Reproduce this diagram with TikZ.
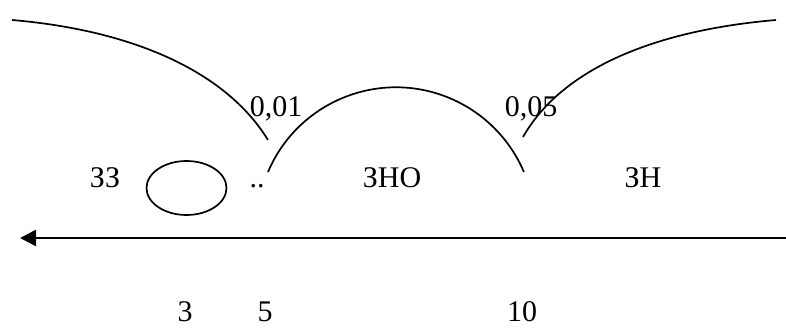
\documentclass[tikz,border=0pt]{standalone}
\usepackage{fontspec}
\setmainfont{Liberation Serif}
\usetikzlibrary{arrows.meta}

\begin{document}
\begin{tikzpicture}[x=0.5pt,y=0.5pt,line width=0.85pt,
  lbl/.style={inner sep=0pt,anchor=base,font=\fontsize{15}{18}\selectfont}]
  \useasboundingbox (0,0) rectangle (786,327);
  % zone boundaries
  \coordinate (L0) at (12,307);
  \coordinate (L1) at (268,187);
  \coordinate (M0) at (268,155);
  \coordinate (R0) at (523,190);
  \coordinate (R1) at (776,307);
  \draw (L0) .. controls (130,297) and (225,257) .. (L1);
  \draw (M0) arc[start angle=157,end angle=23,radius=139];
  \draw (R0) .. controls (563,260) and (658,297) .. (R1);
  \draw (186.5,139) ellipse[x radius=40,y radius=27];
  % axis
  \coordinate (axR) at (786,89);
  \coordinate (axL) at (20,89);
  \draw[line width=1.3pt,-{Triangle[length=8pt,width=8pt]}] (axR) -- (axL);
  % labels
  \node[lbl] (zz)  at (105,140) {ЗЗ};
  \node[lbl] (dd)  at (257,140) {..};
  \node[lbl] (zno) at (392,140) {ЗНО};
  \node[lbl] (zn)  at (643,140) {ЗН};
  \node[lbl] (p01) at (276,210) {0,01};
  \node[lbl] (p05) at (531,210) {0,05};
  \node[lbl] (n3)  at (185,6) {3};
  \node[lbl] (n5)  at (265,6) {5};
  \node[lbl] (n10) at (522,6) {10};
\end{tikzpicture}
\end{document}
